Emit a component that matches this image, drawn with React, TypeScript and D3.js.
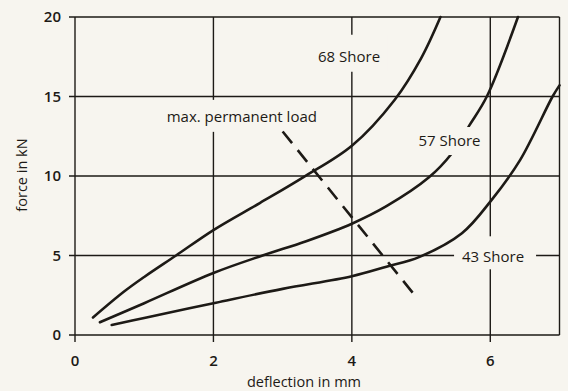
import React from "react";
import { scaleLinear, line, curveCatmullRom } from "d3";

// values (deflection in mm, force in kN)
const shore68 = [
  [0.26, 1.1], [0.7, 2.7], [1.0, 3.65], [1.46, 5.0], [2.0, 6.6], [2.67, 8.3],
  [3.29, 9.9], [4.0, 11.9], [4.62, 14.8], [5.0, 17.4], [5.28, 20.0],
];
const shore57 = [
  [0.36, 0.8], [1.0, 2.0], [2.0, 3.9], [2.71, 5.0], [3.34, 5.9], [4.0, 7.0],
  [4.5, 8.1], [5.11, 9.9], [5.44, 11.4], [5.7, 13.2], [5.95, 15.0], [6.4, 20.0],
];
const shore43 = [
  [0.53, 0.63], [1.0, 1.07], [2.0, 2.0], [3.0, 2.9], [4.0, 3.7], [4.5, 4.3],
  [4.97, 4.9], [5.59, 6.4], [6.02, 8.5], [6.43, 11.0], [6.9, 15.0], [7.0, 15.7],
];
const permanentLoad = [[3.0, 12.8], [4.94, 2.33]];

const xTicks = [0, 2, 4, 6];
const yTicks = [0, 5, 10, 15, 20];

const width = 568;
const height = 391;
const ink = "#1d1a16";
const paper = "#f7f5ef";
const font = "'Open Sans', 'Noto Sans', sans-serif";

export default function App() {
  const x = scaleLinear().domain([0, 7]).range([75, 559.5]);
  const y = scaleLinear().domain([0, 20]).range([335, 17]);

  const curve = line<number[]>()
    .x((d) => x(d[0]))
    .y((d) => y(d[1]))
    .curve(curveCatmullRom.alpha(0.5));
  const straight = line<number[]>()
    .x((d) => x(d[0]))
    .y((d) => y(d[1]));

  // label spots in data coords; boxes knock out grid lines (and, if "over", the curve too)
  const labels = [
    { text: "68 Shore", at: [3.96, 17.5], box: [-38, -22, 76, 37], over: false },
    { text: "57 Shore", at: [5.41, 12.2], box: [-36, -14, 72, 28], over: true },
    { text: "43 Shore", at: [6.04, 4.95], box: [-39, -20, 82, 33], over: false },
    { text: "max. permanent load", at: [2.41, 13.72], box: [-82, -17, 164, 32], over: false },
  ];

  const box = (l: typeof labels[0]) => (
    <rect key={"b" + l.text}
      transform={`translate(${x(l.at[0])},${y(l.at[1])})`}
      x={l.box[0]} y={l.box[1]} width={l.box[2]} height={l.box[3]} fill={paper} />
  );

  return (
    <svg
      width={width}
      height={height}
      style={{ position: "absolute", left: 0, top: 0, background: paper }}
    >
      <rect width={width} height={height} fill={paper} />

      {/* grid */}
      {xTicks.map((d) => (
        <line key={"gx" + d} x1={x(d)} x2={x(d)} y1={y(20)} y2={y(0) + 7}
          stroke={ink} strokeWidth={1.4} />
      ))}
      {yTicks.map((d) => (
        <line key={"gy" + d} x1={x(0) - 6} x2={x(7)} y1={y(d)} y2={y(d)}
          stroke={ink} strokeWidth={1.4} />
      ))}
      <line x1={x(7)} x2={x(7)} y1={y(20)} y2={y(0)} stroke={ink} strokeWidth={1.4} />

      {labels.filter((l) => !l.over).map(box)}

      {/* dashed max. permanent load line */}
      <path d={straight(permanentLoad) || ""} fill="none" stroke={ink}
        strokeWidth={2.6} strokeDasharray="15 9" />

      {/* curves */}
      {[shore68, shore57, shore43].map((s, i) => (
        <path key={i} d={curve(s) || ""} fill="none" stroke={ink}
          strokeWidth={2.6} strokeLinecap="round" />
      ))}

      {labels.filter((l) => l.over).map(box)}

      {/* labels */}
      {labels.map((l) => (
        <text key={l.text} x={x(l.at[0])} y={y(l.at[1])} textAnchor="middle" dy="0.35em"
          fontFamily={font} fontSize={15} fontWeight={500} fill={ink}>{l.text}</text>
      ))}

      {/* tick labels */}
      {xTicks.map((d) => (
        <text key={"tx" + d} x={x(d)} y={361} dy="0.35em" textAnchor="middle"
          fontFamily={font} fontSize={15} fontWeight={600} fill={ink}>{d}</text>
      ))}
      {yTicks.map((d) => (
        <text key={"ty" + d} x={61} y={y(d)} dy="0.35em" textAnchor="end"
          fontFamily={font} fontSize={15} fontWeight={600} fill={ink}>{d}</text>
      ))}

      {/* axis titles */}
      <text x={304} y={382} dy="0.35em" textAnchor="middle" fontFamily={font}
        fontSize={14.5} fontWeight={500} fill={ink}>deflection in mm</text>
      <text transform="translate(22,175) rotate(-90)" dy="0.35em" textAnchor="middle"
        fontFamily={font} fontSize={14.5} fontWeight={500} fill={ink}>force in kN</text>
    </svg>
  );
}
